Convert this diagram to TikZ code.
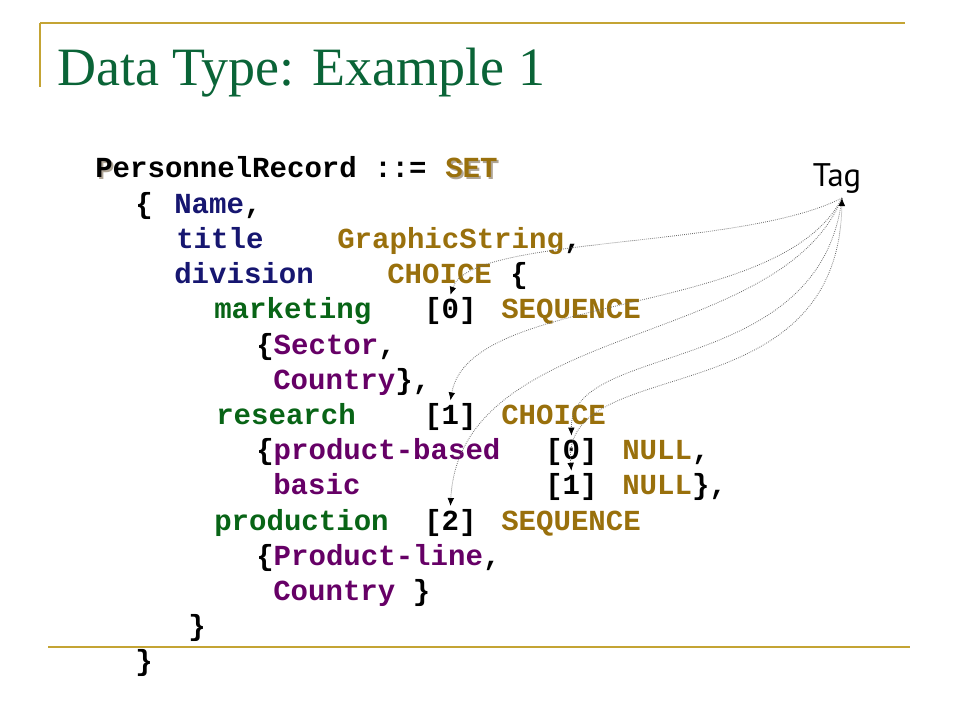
\documentclass[tikz,border=0pt]{standalone}
\usepackage{fontspec}
\setmainfont{Liberation Serif}
\newfontfamily\codefont{Liberation Mono}
\newfontfamily\tagfont{PT Sans}
\usetikzlibrary{arrows.meta, positioning}

\definecolor{slidegold}{RGB}{196,164,52}
\definecolor{titlegreen}{RGB}{10,100,55}
\definecolor{asnkey}{RGB}{153,112,12}
\definecolor{asnfield}{RGB}{22,22,112}
\definecolor{asnalt}{RGB}{8,100,22}
\definecolor{asnmember}{RGB}{102,0,102}
\definecolor{asnshadow}{RGB}{175,165,150}

\tikzset{
  code/.style={anchor=base west, inner sep=0pt, font=\codefont\bfseries\fontsize{21.8}{26}\selectfont},
  keyword/.style={code, text=asnkey},
  field/.style={code, text=asnfield},
  alt/.style={code, text=asnalt},
  shadowtext/.style={code, text=asnshadow},
  tagtip/.tip={Latex[length=6pt, width=5pt, color=black]},
  tagline/.style={draw=gray!85!black, line width=0.6pt, dash pattern=on 0.6pt off 0.9pt, -tagtip}
}

\begin{document}
\begin{tikzpicture}[x=0.75pt, y=-0.75pt]
  \useasboundingbox (0,0) rectangle (960,720);

  % Frame lines
  \draw[slidegold, line width=1.8pt] (40,23) -- (905,23);
  \draw[slidegold, line width=1.5pt] (40,23) -- (40,87);
  \draw[slidegold, line width=1.8pt] (48,647) -- (910,647);

  % Title
  \node[anchor=base west, inner sep=0pt, text=titlegreen, font=\fontsize{40.5}{48}\selectfont] (title) at (57,86) {Data Type: Example 1};

  % Header line
  \node[shadowtext] (pshadow) at (97,180) {P};
  \node[shadowtext] (setshadow) at (447,180) {SET};
  \node[code] (record) at (95,178) {PersonnelRecord ::=};
  \node[keyword] (set) at (445,178) {SET};

  % Set members
  \node[code] (open) at (135,213.2) {\{};
  \node[field] (name) at (174,213.2) {Name\textcolor{black}{,}};
  \node[field] (titlefield) at (176,248.4) {title};
  \node[keyword] (graphic) at (337,248.4) {GraphicString\textcolor{black}{,}};
  \node[field] (division) at (174,283.6) {division};
  \node[keyword] (choice) at (387,283.6) {CHOICE};
  \node[code] (choiceopen) at (510,283.6) {\{};

  % Alternatives
  \node[alt] (marketing) at (214,318.8) {marketing};
  \node[code] (tmark) at (424,318.8) {[0]};
  \node[keyword] (seqmark) at (501,318.8) {SEQUENCE};
  \node[code] (sector) at (256,354) {\{\textcolor{asnmember}{Sector},};
  \node[code] (country) at (273,389.2) {\textcolor{asnmember}{Country}\},};
  \node[alt] (research) at (216,424.4) {research};
  \node[code] (tres) at (424,424.4) {[1]};
  \node[keyword] (choiceres) at (501,424.4) {CHOICE};
  \node[code] (prodbased) at (256,459.6) {\{\textcolor{asnmember}{product-based}};
  \node[code] (tprodb) at (545,459.6) {[0]};
  \node[keyword] (nullprodb) at (622,459.6) {NULL\textcolor{black}{,}};
  \node[code] (basic) at (273,494.8) {\textcolor{asnmember}{basic}};
  \node[code] (tbasic) at (545,494.8) {[1]};
  \node[keyword] (nullbasic) at (622,494.8) {NULL\textcolor{black}{\},}};
  \node[alt] (production) at (214,530) {production};
  \node[code] (tprod) at (424,530) {[2]};
  \node[keyword] (seqprod) at (501,530) {SEQUENCE};
  \node[code] (prodline) at (256,565.2) {\{\textcolor{asnmember}{Product-line},};
  \node[code] (country2) at (273,600.4) {\textcolor{asnmember}{Country} \}};
  \node[code] (choiceclose) at (188,635.6) {\}};
  \node[code] (close) at (135,670.8) {\}};

  % Tag pointers
  \node[anchor=base, inner sep=0pt, font=\tagfont\fontsize{24.5}{28}\selectfont] (tag) at (837,187) {Tag};
  \coordinate (tagtip) at (842,198);
  \draw[tagline] (tagtip) .. controls (740,250) and (470,235) .. ([yshift=2pt]tmark.north);
  \draw[tagline] (tagtip) .. controls (780,320) and (470,290) .. ([yshift=2pt]tres.north);
  \draw[tagline] (tagtip) .. controls (780,350) and (460,320) .. ([yshift=2pt]tprod.north);
  \draw[tagline] (tagtip) .. controls (820,380) and (570,340) .. ([yshift=2pt]tprodb.north);
  \draw[tagline, tagtip-tagtip] (tagtip) .. controls (838,420) and (560,350) .. ([yshift=2pt]tbasic.north);
\end{tikzpicture}
\end{document}
